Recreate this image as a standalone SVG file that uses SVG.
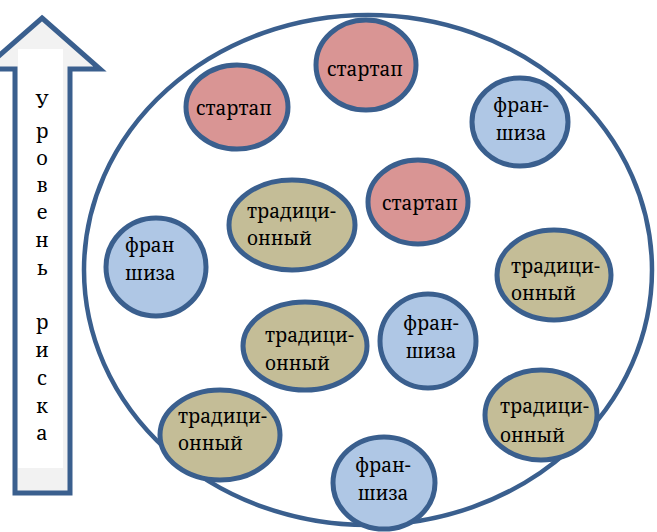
<svg xmlns="http://www.w3.org/2000/svg" width="657" height="532" viewBox="0 0 657 532">
<style>
.n{stroke:#3a5f8e;stroke-width:5}
.s{fill:#d99594}
.t{fill:#c4bd97}
.f{fill:#afc7e5}
text{font-family:'Noto Serif','DejaVu Serif','Liberation Serif',serif;font-size:19px;fill:#000}
.c{text-anchor:middle}
.a{font-size:20px;text-anchor:middle}
</style>
<g id="arrow">
<polygon points="42,18 100,69 70,69 70,493 15,493 15,69 -16,69" fill="#f2f2f2" stroke="#3a5f8e" stroke-width="5" stroke-linejoin="miter"/>
<rect x="18" y="49" width="45" height="419" fill="#ffffff"/>
<text x="42" y="108" class="a">У</text>
<text x="42" y="138" class="a">р</text>
<text x="42" y="165" class="a">о</text>
<text x="42" y="192" class="a">в</text>
<text x="42" y="219" class="a">е</text>
<text x="42" y="247" class="a">н</text>
<text x="42" y="275" class="a">ь</text>
<text x="42" y="329" class="a">р</text>
<text x="42" y="357" class="a">и</text>
<text x="42" y="385" class="a">с</text>
<text x="42" y="413" class="a">к</text>
<text x="42" y="440" class="a">а</text>
</g>
<g id="group">
<ellipse cx="368" cy="270" rx="284" ry="255" fill="none" stroke="#3a5f8e" stroke-width="4.5"/>
</g>
<g id="connectors"></g>
<g id="startup1"><ellipse class="n s" cx="366" cy="65" rx="50" ry="45"/><text class="c" x="365" y="76">стартап</text></g>
<g id="startup2"><ellipse class="n s" cx="237" cy="107" rx="51" ry="42"/><text class="c" x="234" y="115">стартап</text></g>
<g id="startup3"><ellipse class="n s" cx="418" cy="202" rx="50" ry="42"/><text class="c" x="420" y="210">стартап</text></g>
<g id="franchise1"><ellipse class="n f" cx="520" cy="122" rx="48" ry="44"/><text class="c" x="521" y="112">фран-</text><text class="c" x="521" y="140">шиза</text></g>
<g id="franchise2"><ellipse class="n f" cx="156" cy="267" rx="50" ry="49"/><text x="125" y="252">фран</text><text x="125" y="280">шиза</text></g>
<g id="franchise3"><ellipse class="n f" cx="428" cy="341" rx="48" ry="47"/><text class="c" x="431" y="330">фран-</text><text class="c" x="431" y="358">шиза</text></g>
<g id="franchise4"><ellipse class="n f" cx="384" cy="483" rx="51" ry="46"/><text class="c" x="383" y="472">фран-</text><text class="c" x="383" y="500">шиза</text></g>
<g id="trad1"><ellipse class="n t" cx="292" cy="225" rx="63" ry="45"/><text x="247" y="218">традици-</text><text x="247" y="245">онный</text></g>
<g id="trad2"><ellipse class="n t" cx="554" cy="275" rx="57" ry="45"/><text x="511" y="273">традици-</text><text x="511" y="300">онный</text></g>
<g id="trad3"><ellipse class="n t" cx="305" cy="346" rx="62" ry="44"/><text x="265" y="342">традици-</text><text x="265" y="370">онный</text></g>
<g id="trad4"><ellipse class="n t" cx="220" cy="435" rx="60" ry="45"/><text x="178" y="423">традици-</text><text x="178" y="450">онный</text></g>
<g id="trad5"><ellipse class="n t" cx="541" cy="415" rx="56" ry="45"/><text x="500" y="413">традици-</text><text x="500" y="442">онный</text></g>
</svg>
